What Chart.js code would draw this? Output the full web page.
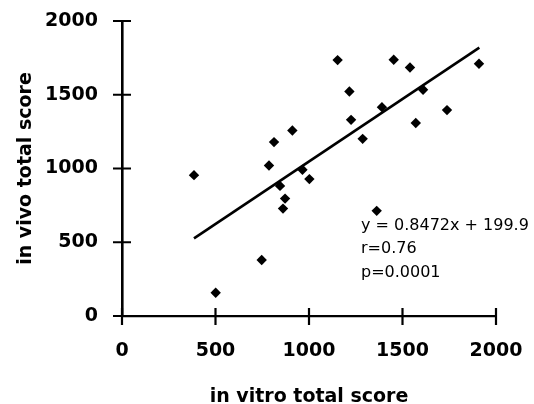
<!DOCTYPE html>
<html>
<head>
<meta charset="utf-8">
<script src="https://cdn.jsdelivr.net/npm/chart.js@4"></script>
<style>
  html, body { margin: 0; padding: 0; background: #fff; }
  #wrap { width: 534px; height: 404px; }
</style>
</head>
<body>
<div id="wrap"><canvas id="c" width="534" height="404"></canvas></div>
<script>
// in vitro (x) vs in vivo (y) total scores
const vitro = [385, 501, 747, 786, 813, 845, 861, 872, 911, 965, 1002, 1153, 1216, 1225, 1287, 1362, 1390, 1453, 1540, 1571, 1610, 1738, 1909];
const vivo  = [955, 158, 380, 1020, 1179, 882, 728, 796, 1258, 992, 928, 1735, 1522, 1330, 1201, 713, 1416, 1737, 1685, 1308, 1534, 1396, 1710];
// regression line ends
const fitX = [385, 1911];
const fitY = [526, 1819];
const xTicks = [0, 500, 1000, 1500, 2000];
const yTicks = [0, 500, 1000, 1500, 2000];
const statLines = ['y = 0.8472x + 199.9', 'r=0.76', 'p=0.0001'];

const BOLD = 'bold 19px "DejaVu Sans"';
const tickFont = { family: 'DejaVu Sans', size: 19, weight: 'bold' };

// ticks that cross the axis + axis titles + stats text
const extras = {
  id: 'extras',
  afterDraw(chart) {
    const { ctx, chartArea: a, scales: { x, y } } = chart;
    ctx.save();
    ctx.strokeStyle = '#000'; ctx.lineWidth = 2.2;
    ctx.beginPath();
    xTicks.forEach(v => { const px = x.getPixelForValue(v); ctx.moveTo(px, a.bottom - 8); ctx.lineTo(px, a.bottom + 9); });
    yTicks.forEach(v => { const py = y.getPixelForValue(v); ctx.moveTo(a.left - 9, py); ctx.lineTo(a.left + 9, py); });
    ctx.stroke();

    ctx.fillStyle = '#000';
    ctx.font = BOLD;
    ctx.textAlign = 'center'; ctx.textBaseline = 'alphabetic';
    ctx.fillText('in vitro total score', (a.left + a.right) / 2, 401.5);
    ctx.save();
    ctx.translate(31, (a.top + a.bottom) / 2);
    ctx.rotate(-Math.PI / 2);
    ctx.fillText('in vivo total score', 0, 0);
    ctx.restore();

    ctx.font = '16px "DejaVu Sans"';
    ctx.textAlign = 'left';
    const base = [230, 253, 276.5];
    statLines.forEach((t, i) => ctx.fillText(t, 361, base[i]));
    ctx.restore();
  }
};

new Chart(document.getElementById('c'), {
  type: 'scatter',
  data: {
    datasets: [
      { data: vitro.map((v, i) => ({ x: v, y: vivo[i] })), pointStyle: 'rectRot', pointRadius: 5.2,
        backgroundColor: '#000', borderColor: '#000', borderWidth: 0, order: 1 },
      { type: 'line', data: fitX.map((v, i) => ({ x: v, y: fitY[i] })), borderColor: '#000', borderWidth: 2.6,
        pointRadius: 0, fill: false, order: 2 },
    ]
  },
  options: {
    responsive: false,
    animation: false,
    layout: { padding: { left: 0, right: 38, top: 21, bottom: 0 } },
    plugins: { legend: { display: false }, tooltip: { enabled: false } },
    scales: {
      x: {
        type: 'linear', min: 0, max: 2000,
        afterBuildTicks: s => { s.ticks = xTicks.map(v => ({ value: v })); },
        afterFit: s => { s.height = 88; s.paddingLeft = 0; s.paddingRight = 0; },
        grid: { display: true, drawOnChartArea: false, drawTicks: false },
        border: { display: true, color: '#000', width: 2.2 },
        ticks: { color: '#000', font: tickFont, padding: 24, maxRotation: 0, callback: v => String(v) }
      },
      y: {
        type: 'linear', min: 0, max: 2000,
        afterBuildTicks: s => { s.ticks = yTicks.map(v => ({ value: v })); },
        afterFit: s => { s.width = 122; s.paddingTop = 0; s.paddingBottom = 0; },
        grid: { display: true, drawOnChartArea: false, drawTicks: false },
        border: { display: true, color: '#000', width: 2.6 },
        ticks: { color: '#000', font: tickFont, padding: 24, callback: v => String(v) }
      }
    }
  },
  plugins: [extras]
});
</script>
</body>
</html>
